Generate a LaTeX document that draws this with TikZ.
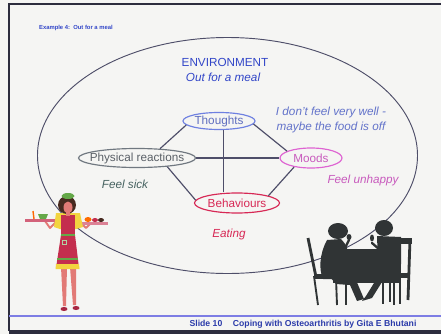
\documentclass[tikz,border=0pt]{standalone}
\usepackage{fontspec}
\setmainfont{Liberation Sans}
\usetikzlibrary{shapes.geometric}
\definecolor{bg}{RGB}{245,245,243}
\definecolor{frame}{RGB}{45,45,62}
\definecolor{ink}{RGB}{78,78,105}
\definecolor{envblue}{RGB}{50,70,200}
\definecolor{thblue}{RGB}{110,128,225}
\definecolor{prgray}{RGB}{112,120,128}
\definecolor{sick}{RGB}{70,98,96}
\definecolor{mood}{RGB}{222,100,210}
\definecolor{beh}{RGB}{215,40,85}
\definecolor{foot}{RGB}{125,125,228}
\definecolor{skin}{RGB}{226,122,118}
\definecolor{apron}{RGB}{196,46,78}
\definecolor{shirt}{RGB}{242,212,64}
\definecolor{leaf}{RGB}{100,168,72}
\definecolor{hair}{RGB}{72,42,32}
\definecolor{diner}{RGB}{48,52,53}
\tikzset{
    part/.style={ellipse, draw, line width=1pt, inner xsep=-6pt, inner ysep=0pt, font=\fontsize{10}{12}\selectfont},
    link/.style={draw=ink, line width=1pt},
    lbl/.style={font=\fontsize{10}{12.8}\selectfont\itshape, align=center}
}

\begin{document}
\begin{tikzpicture}[x=0.03cm, y=-0.03cm]
    \useasboundingbox (0,0) rectangle (441,334);
    \fill[bg] (0,0) rectangle (441,334);

    % slide frame and footer
    \draw[frame, line width=1.3pt] (441,4) -- (9,4) -- (9,331);
    \fill[frame] (9,330) rectangle (441,334);
    \draw[foot, line width=1pt] (9,316) -- (441,316);
    \node[anchor=west, text=envblue, font=\fontsize{5}{6}\selectfont\bfseries] (title) at (35,28) {Example 4:\ \ Out for a meal};
    \node[text=envblue!85!black, font=\fontsize{7.4}{9}\selectfont\bfseries] (footer) at (303,324) {Slide 10\hspace{9pt}Coping with Osteoarthritis by Gita E Bhutani};

    % environment
    \draw[ink, line width=0.8pt] (227.5,155.5) ellipse [x radius=190, y radius=118];
    \node[text=envblue, font=\fontsize{10}{12}\selectfont] (env) at (225,62.5) {ENVIRONMENT};
    \node[lbl, text=envblue] (meal) at (223,77) {Out for a meal};

    % the four parts
    \node[part, draw=thblue, text=thblue!85!black, minimum width=2.16cm, minimum height=0.51cm] (TH) at (219,121) {Thoughts};
    \node[part, draw=prgray, text=prgray!80!black, minimum width=3.51cm, minimum height=0.57cm] (PR) at (137,158) {Physical reactions};
    \node[part, draw=mood, text=mood!90!black, minimum width=1.86cm, minimum height=0.6cm] (MO) at (311,158) {Moods};
    \node[part, draw=beh, text=beh, minimum width=2.55cm, minimum height=0.6cm] (BE) at (237,203) {Behaviours};

    \draw[link] (TH.187) -- (PR.22);
    \draw[link] (TH.355) -- (MO.164);
    \draw[link] (PR.east) -- (MO.west);
    \draw[link] (PR.344) -- (BE.176);
    \draw[link] (MO.208) -- (BE.13);
    \draw[link] (TH.295) -- (TH.295 |- BE.north);

    \node[lbl, text=thblue!90!black] (worry) at (331,120) {I don't feel very well -\\maybe the food is off};
    \node[lbl, text=sick] (sickTxt) at (125,184) {Feel sick};
    \node[lbl, text=mood!90!black] (unhappy) at (363,180) {Feel unhappy};
    \node[lbl, text=beh] (eat) at (229,234) {Eating};

    % waitress
    \fill[skin] (61,267) -- (67,267) -- (66,306) -- (63,306) -- cycle;
    \fill[skin] (70,267) -- (76,267) -- (76,305) -- (73,305) -- cycle;
    \fill[apron!85!black] (64,309) ellipse [x radius=3.5, y radius=2];
    \fill[apron!85!black] (76,308) ellipse [x radius=3.5, y radius=2];
    \draw[skin, line width=1.6pt, line cap=round, line join=round] (58,220) -- (50,228) -- (45,221);
    \draw[skin, line width=1.6pt, line cap=round, line join=round] (79,221) -- (86,228) -- (91,223);
    \fill[apron!75!white] (25,219) rectangle (56,222);
    \fill[apron!60!white] (80,222) rectangle (108,225);
    \fill[leaf] (38,214) -- (48,214) -- (46,219) -- (40,219) -- cycle;
    \draw[orange!80!red, line width=1.2pt] (34,219) -- (33,211);
    \fill[orange!85!red] (88,219.5) ellipse [x radius=3.5, y radius=2.5];
    \fill[apron] (95,220) ellipse [x radius=3, y radius=2];
    \fill[hair] (101,220) ellipse [x radius=3, y radius=2];
    \fill[shirt] (56,213) -- (80,213) -- (83,227) -- (76,229) -- (60,229) -- (54,227) -- cycle;
    \fill[apron] (61,215) rectangle (75,236);
    \fill[apron] (61,235) -- (75,235) -- (79,268) -- (56,268) -- cycle;
    \fill[shirt] (56,264) -- (79,264) -- (79.5,269) -- (55.5,269) -- cycle;
    \draw[leaf, line width=1pt] (61,235) -- (75,235);
    \draw[leaf, line width=1pt] (57,259) -- (78,259);
    \draw[leaf!50!white, line width=0.6pt] (62,240) rectangle (66,244);
    \fill[hair] (67,205) ellipse [x radius=9, y radius=9];
    \fill[skin] (66,212) rectangle (70,216);
    \fill[skin] (68,207.5) ellipse [x radius=4.5, y radius=6];
    \fill[leaf] (68,196) ellipse [x radius=6.5, y radius=3];

    % diners at the table
    \draw[diner, line width=2.4pt] (308,238) -- (316,277);
    \draw[diner, line width=1.6pt] (314,276) -- (318,305);
    \draw[diner, line width=1.6pt] (336,278) -- (337,305);
    \fill[diner] (314,274) rectangle (338,279);
    \draw[diner, line width=2.4pt] (410,239) -- (408,300);
    \fill[diner] (398,238) rectangle (412,244);
    \draw[diner, line width=1.6pt] (383,276) -- (383,304);
    \draw[diner, line width=1.6pt] (390,276) -- (390,302);
    \draw[diner, line width=1.6pt] (400,276) -- (400,304);
    \fill[diner] (380,273) rectangle (410,278);
    \fill[diner] (333,249) rectangle (401,283);
    \draw[diner, line width=1.6pt] (346,282) -- (346,305);
    \draw[diner, line width=1.6pt] (394,282) -- (394,305);
    \fill[diner] (338,231) ellipse [x radius=10, y radius=8];
    \fill[diner] (327,240) .. controls (319,255) and (319,270) .. (323,279) -- (346,279) -- (348,255) .. controls (347,246) .. (341,239) -- cycle;
    \draw[diner, line width=2pt, line cap=round] (343,252) -- (349,240);
    \fill[diner] (349,237) ellipse [x radius=2.5, y radius=3];
    \fill[diner] (330,277) -- (356,280) -- (364,299) -- (357,301) -- (350,285) -- (336,284) -- cycle;
    \fill[diner] (384,228) ellipse [x radius=9, y radius=8];
    \fill[diner] (377,236) -- (401,237) -- (401,264) -- (378,264) -- cycle;
    \draw[diner, line width=2pt, line cap=round] (380,250) -- (372,243);
    \fill[diner] (372,238) ellipse [x radius=2, y radius=3.5];
    \fill[diner] (382,282) -- (372,298) -- (362,301) -- (366,296) -- (374,283) -- cycle;
\end{tikzpicture}
\end{document}
